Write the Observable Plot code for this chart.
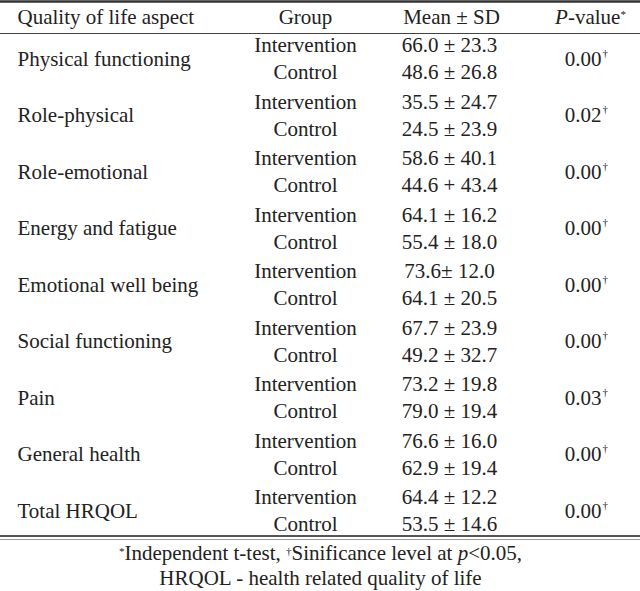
<!DOCTYPE html>
<html>
<head>
<meta charset="utf-8">
<script src="https://cdn.jsdelivr.net/npm/d3@7"></script>
<script src="https://cdn.jsdelivr.net/npm/@observablehq/plot@0.6"></script>
<style>
  html, body { margin: 0; padding: 0; background: #fff; }
  svg { display: block; }
  svg text { font-family: "Liberation Serif", "Times New Roman", serif !important; }
</style>
</head>
<body>
<div id="chart"></div>
<script>
// ---- data ----
const aspects = ["Physical functioning", "Role-physical", "Role-emotional", "Energy and fatigue",
  "Emotional well being", "Social functioning", "Pain", "General health", "Total HRQOL"];
const groups = ["Intervention", "Control"];
const interventionMean = ["66.0", "35.5", "58.6", "64.1", "73.6", "67.7", "73.2", "76.6", "64.4"];
const interventionSD   = ["23.3", "24.7", "40.1", "16.2", "12.0", "23.9", "19.8", "16.0", "12.2"];
const controlMean      = ["48.6", "24.5", "44.6", "55.4", "64.1", "49.2", "79.0", "62.9", "53.5"];
const controlSD        = ["26.8", "23.9", "43.4", "18.0", "20.5", "32.7", "19.4", "19.4", "14.6"];
const pValues          = ["0.00", "0.02", "0.00", "0.00", "0.00", "0.00", "0.03", "0.00", "0.00"];
const headers = ["Quality of life aspect", "Group", "Mean \u00B1 SD", "P-value"];
const footnotes = ["*Independent t-test, \u2020Sinificance level at p<0.05,", "HRQOL - health related quality of life"];

// ---- layout helpers (positions only) ----
const top0 = 45, pair = 56.5, sub = 27;
const sep = (i, g) => {
  if (i === 2 && g === 1) return " + ";
  if (i === 4 && g === 0) return "\u00B1 ";
  return " \u00B1 ";
};
const rows = [];
aspects.forEach((a, i) => {
  rows.push({aspect: a, group: groups[0], i, g: 0, y: top0 + i * pair,
    txt: interventionMean[i] + sep(i, 0) + interventionSD[i]});
  rows.push({aspect: a, group: groups[1], i, g: 1, y: top0 + i * pair + sub,
    txt: controlMean[i] + sep(i, 1) + controlSD[i]});
});
const aspectRows = aspects.map((a, i) => ({aspect: a, p: pValues[i], y: top0 + i * pair + sub / 2}));

const font = "Liberation Serif";
const fs = 21;
const col = "#222";
const T = {fontSize: fs, fill: col, fontFamily: font};

const chart = Plot.plot({
  width: 640, height: 591,
  margin: 0,
  style: {background: "#fff"},
  x: {domain: [0, 640], axis: null},
  y: {domain: [0, 591], axis: null, reverse: true},
  marks: [
    Plot.ruleY([1], {stroke: "#333", strokeWidth: 2.5}),
    Plot.ruleY([33], {stroke: "#444", strokeWidth: 1.2}),
    Plot.ruleY([535.5], {stroke: "#555", strokeWidth: 2}),
    Plot.ruleY([539], {stroke: "#999", strokeWidth: 1.2}),
    Plot.text([headers[0]], {x: 17, y: 17, text: d => d, textAnchor: "start", ...T}),
    Plot.text([headers[1]], {x: 305, y: 17, text: d => d, ...T}),
    Plot.text([headers[2]], {x: 451, y: 17, text: d => d, ...T}),
    Plot.text([headers[3]], {x: 590, y: 17, text: d => d, ...T}),
    Plot.text(aspectRows, {x: 17, y: "y", text: "aspect", textAnchor: "start", ...T}),
    Plot.text(rows, {x: 305, y: "y", text: "group", ...T}),
    Plot.text(rows, {x: 449, y: "y", text: "txt", ...T}),
    Plot.text(aspectRows, {x: 601, y: "y", text: "p", textAnchor: "end", ...T}),
    Plot.text(aspectRows, {x: 602, y: d => d.y - 6, text: d => "\u2020", textAnchor: "start", ...T, fontSize: 11}),
    Plot.text([footnotes[0]], {x: 320, y: 553, text: d => d, ...T}),
    Plot.text([footnotes[1]], {x: 320, y: 578, text: d => d, ...T})
  ]
});
document.getElementById("chart").appendChild(chart);

// rich-text tweaks: italics and superscripts
const svg = d3.select(chart);
svg.selectAll("text").each(function() {
  const t = d3.select(this);
  const s = t.text();
  if (s === headers[3]) {
    t.text(null);
    t.append("tspan").attr("font-style", "italic").text("P");
    t.append("tspan").text("-value");
    t.append("tspan").attr("font-size", 11).attr("dy", "-0.6em").text("*");
  } else if (s === footnotes[0]) {
    t.text(null);
    t.append("tspan").attr("font-size", 11).attr("dy", "-0.5em").text("*");
    t.append("tspan").attr("dy", "0.26em").text("Independent t-test, ");
    t.append("tspan").attr("font-size", 11).attr("dy", "-0.5em").text("\u2020");
    t.append("tspan").attr("dy", "0.26em").text("Sinificance level at ");
    t.append("tspan").attr("font-style", "italic").text("p");
    t.append("tspan").text("<0.05,");
  }
});
</script>
</body>
</html>
